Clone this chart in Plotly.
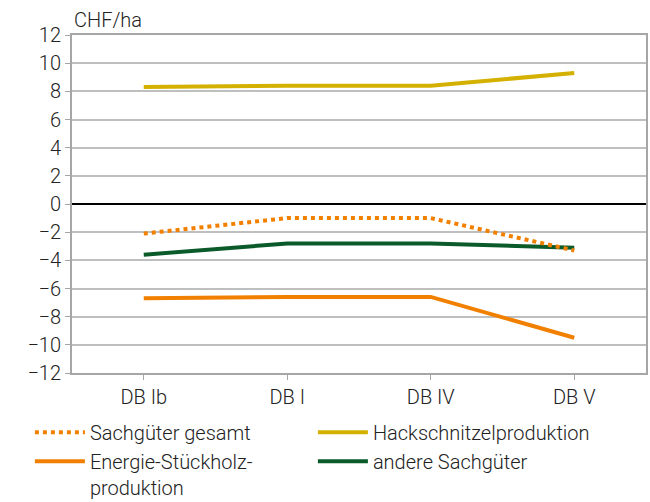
import plotly.graph_objects as go

categories = ["DB Ib", "DB I", "DB IV", "DB V"]

sachgueter_gesamt = [-2.1, -1.0, -1.0, -3.3]
hackschnitzel = [8.3, 8.4, 8.4, 9.3]
energie_stueckholz = [-6.7, -6.6, -6.6, -9.5]
andere_sachgueter = [-3.6, -2.8, -2.8, -3.1]

y_ticks = list(range(-12, 13, 2))
y_labels = [("\u2212" + str(abs(v))) if v < 0 else str(v) for v in y_ticks]

ORANGE = "#F28000"
YELLOW = "#D4B000"
GREEN = "#0B5A2A"
FONT = "Roboto"
FS = 20

fig = go.Figure()

fig.add_trace(go.Scatter(
    x=categories, y=andere_sachgueter, name="andere Sachgüter",
    mode="lines", line=dict(color=GREEN, width=4), legendrank=4
))
fig.add_trace(go.Scatter(
    x=categories, y=energie_stueckholz, name="Energie-Stückholz-<br>produktion",
    mode="lines", line=dict(color=ORANGE, width=4), legendrank=3
))
fig.add_trace(go.Scatter(
    x=categories, y=hackschnitzel, name="Hackschnitzelproduktion",
    mode="lines", line=dict(color=YELLOW, width=4), legendrank=2
))
fig.add_trace(go.Scatter(
    x=categories, y=sachgueter_gesamt, name="Sachgüter gesamt",
    mode="lines", line=dict(color=ORANGE, width=4, dash="dot"), legendrank=1
))

fig.update_layout(
    width=650, height=502,
    margin=dict(l=72, r=4, t=35, b=129, autoexpand=False),
    paper_bgcolor="white", plot_bgcolor="white",
    font=dict(family=FONT, size=FS, color="#222", weight=300),
    showlegend=True,
    legend=dict(
        orientation="h", x=0.046, xref="container", y=0.178, yref="container",
        yanchor="top", xanchor="left", entrywidth=218, entrywidthmode="pixels",
        itemwidth=50,
        font=dict(size=FS, family=FONT, color="#222", weight=300),
        traceorder="normal", valign="top",
    ),
    annotations=[dict(
        text="CHF/ha", x=0, xref="paper", xanchor="left",
        y=1.0, yref="paper", yanchor="bottom", yshift=1,
        showarrow=False, font=dict(size=FS, family=FONT, color="#222", weight=300)
    )],
)

fig.update_xaxes(
    type="category", range=[-0.5, 3.5], showgrid=False, showline=True,
    linecolor="#A6A6A6", linewidth=2, mirror=True, ticks="outside",
    ticklen=5, tickcolor="#A6A6A6", zeroline=False, automargin=False,
)
fig.update_yaxes(
    range=[-12, 12], tickvals=y_ticks, ticktext=y_labels,
    showgrid=True, gridcolor="#BFBFBF", gridwidth=1.5,
    showline=True, linecolor="#A6A6A6", linewidth=2, mirror=True,
    ticks="outside", ticklen=5, tickcolor="#A6A6A6",
    zeroline=True, zerolinecolor="#000000", zerolinewidth=1.5, automargin=False,
)

# remove default page margin so the figure fills the 650x502 window
fig.write_html(
    "out.html",
    config={"displayModeBar": False},
    post_script="document.body.style.margin='0';document.body.style.overflow='hidden';",
)
